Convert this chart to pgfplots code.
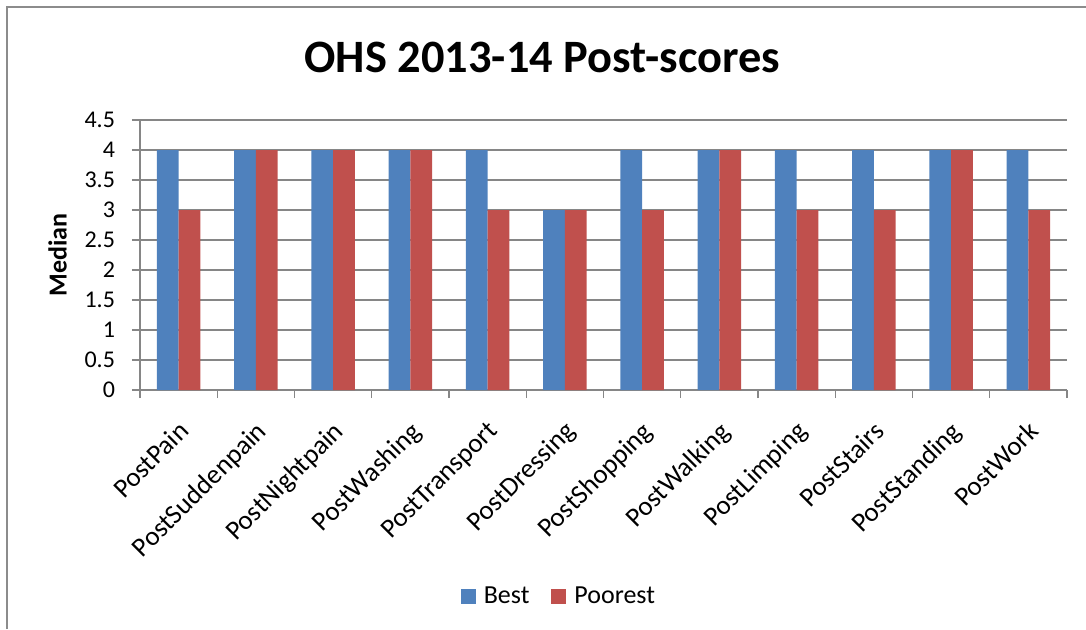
\documentclass[border=0pt]{standalone}
\usepackage{fontspec}
\setmainfont{Carlito}
\usepackage{pgfplots}
\pgfplotsset{compat=1.18}
\definecolor{best}{HTML}{4F81BD}
\definecolor{poor}{HTML}{C0504D}
\definecolor{gridgray}{HTML}{868686}
\definecolor{framegray}{HTML}{8C8C8C}
\begin{document}
\begin{tikzpicture}
% picture area: 1 px of the reference = 0.5pt, origin at the plot's lower left
\path[use as bounding box] (-70pt,-119.5pt) rectangle (473pt,195pt);
\draw[framegray, line width=1.2pt] (-66.5pt,-119.5pt) -- (-66.5pt,191.5pt) -- (473pt,191.5pt);
\begin{axis}[
    at={(0pt,0pt)}, anchor=south west,
    scale only axis,
    width=463.5pt, height=135pt,
    ybar=0pt, bar width=10.85pt,
    xmin=-0.5, xmax=11.5,
    ymin=0, ymax=4.5,
    ytick={0,0.5,...,4.5},
    xtick={0,...,11},
    xticklabels={PostPain,PostSuddenpain,PostNightpain,PostWashing,PostTransport,PostDressing,PostShopping,PostWalking,PostLimping,PostStairs,PostStanding,PostWork},
    minor xtick={-0.5,0.5,...,11.5},
    major x tick style={draw=none},
    tick align=outside,
    minor tick length=4pt, major tick length=4pt,
    tick style={gridgray, line width=0.65pt},
    axis x line*=bottom, axis y line*=left,
    axis line style={gridgray, line width=0.65pt, -},
    ymajorgrids, grid style={gridgray, line width=0.65pt},
    /pgf/number format/assume math mode=true,
    y tick label style={font=\fontsize{12}{14}\selectfont, xshift=-5pt},
    x tick label style={font=\fontsize{13.5}{16}\selectfont, rotate=45, anchor=north east, inner sep=1pt, yshift=-6pt, xshift=-7pt},
    ylabel={\bfseries Median},
    ylabel style={font=\fontsize{13}{15}\selectfont, yshift=2pt},
    title={\bfseries OHS 2013-14 Post-scores},
    title style={font=\fontsize{23.2}{26}\selectfont, at={(0.434,1)}, yshift=14pt},
    legend style={draw=none, at={(0.453,-0.765)}, anchor=center, legend columns=2,
        font=\fontsize{13}{15}\selectfont,
        /tikz/every odd column/.append style={column sep=2pt},
        /tikz/every even column/.append style={column sep=9pt}},
    legend image code/.code={\fill[#1] (0pt,-3.7pt) rectangle (7.5pt,3.7pt);},
]
\addplot[fill=best, draw=none] coordinates {(0,4) (1,4) (2,4) (3,4) (4,4) (5,3) (6,4) (7,4) (8,4) (9,4) (10,4) (11,4)};
\addplot[fill=poor, draw=none] coordinates {(0,3) (1,4) (2,4) (3,4) (4,3) (5,3) (6,3) (7,4) (8,3) (9,3) (10,4) (11,3)};
\legend{Best,Poorest}
\end{axis}
\end{tikzpicture}
\end{document}
